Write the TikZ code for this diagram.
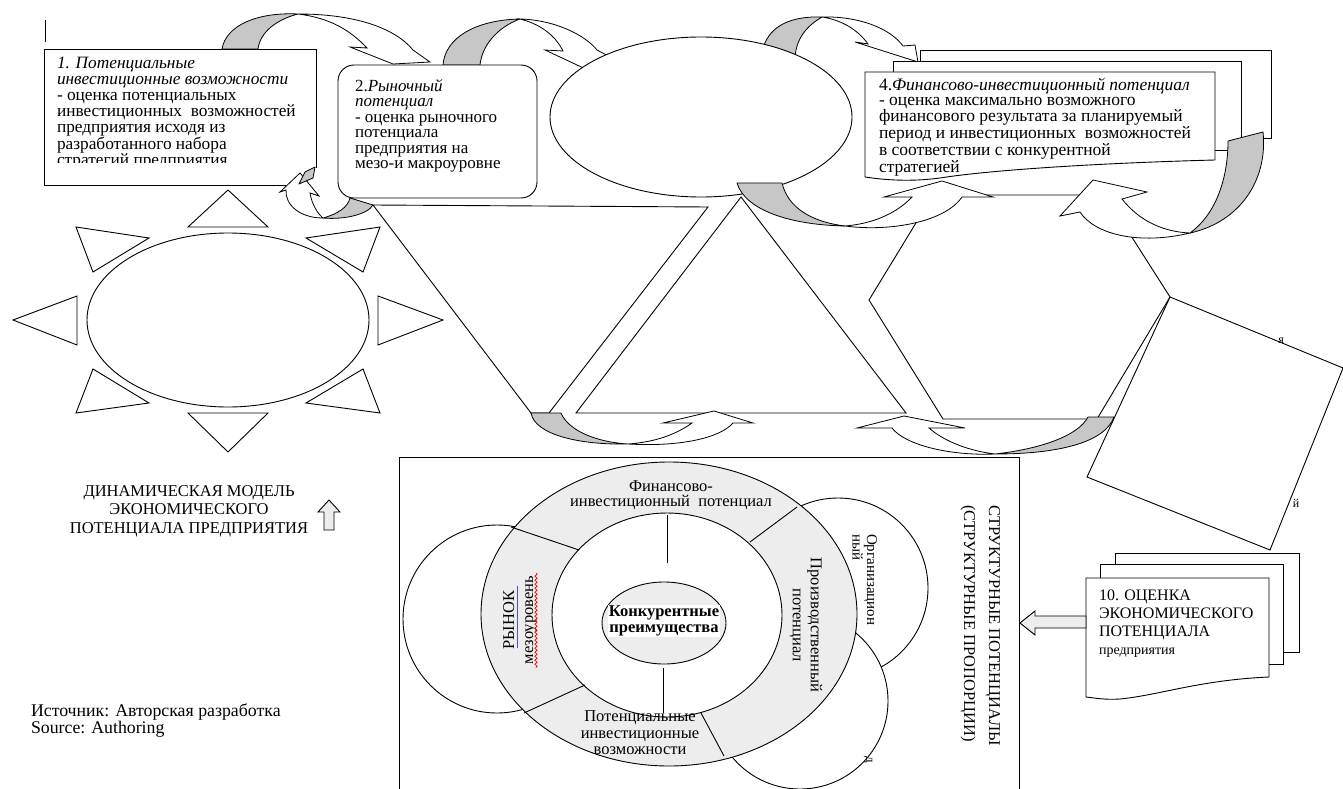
\documentclass[tikz,border=0pt]{standalone}
\usepackage{fontspec}
\setmainfont{Liberation Serif}
\usetikzlibrary{decorations.pathmorphing}
\begin{document}
\begin{tikzpicture}[x=1pt,y=-1pt,
  ln/.style={draw=black,line width=0.9pt},
  shp/.style={draw=black,fill=white,line width=0.9pt},
  gband/.style={draw=black,fill=black!22,line width=0.8pt,line join=round},
  wband/.style={draw=black,fill=white,line width=0.8pt},
  blk/.style={draw=black,fill=black!7,line width=0.9pt},
  ring/.style={draw=black,fill=black!7,line width=0.9pt},
  txt/.style={inner sep=0pt,outer sep=0pt,text=black},
]
\useasboundingbox (0,0) rectangle (1343,789);
\fill[white] (0,0) rectangle (1343,789);

% tick
\draw[ln] (45,20) -- (45,42);

% sun
\draw[shp] (228,320) ellipse [x radius=141pt, y radius=87pt];
\draw[shp] (188,227) -- (268,227) -- (228,190) -- cycle;
\draw[shp] (188,413) -- (268,413) -- (228,452) -- cycle;
\draw[shp] (77,296) -- (77,345) -- (13,320) -- cycle;
\draw[shp] (378,296) -- (378,345) -- (443,320) -- cycle;
\draw[shp] (76,227) -- (149,238) -- (93,272) -- cycle;
\draw[shp] (380,227) -- (306,238) -- (363,272) -- cycle;
\draw[shp] (93,369) -- (149,403) -- (76,413) -- cycle;
\draw[shp] (363,369) -- (306,403) -- (380,413) -- cycle;

% big middle shapes
\draw[shp] (373,205) -- (708,207) -- (549,413) -- (531,413) -- cycle;
\draw[shp] (741,197) -- (906,413) -- (576,413) -- cycle;
\draw[shp] (933,195) -- (1105,195) -- (1170,297) -- (1097,419) -- (943,419) -- (869,300) -- cycle;
\draw[shp] (1170,297) -- (1343,368) -- (1270,550) -- (1087,477) -- cycle;
\node[txt,font=\fontsize{12}{12}\selectfont] (fr1) at (1281,341) {я};
\node[txt,font=\fontsize{12}{12}\selectfont] (fr2) at (1296,503) {й};

% arrow A
\draw[wband] (298,14) .. controls (355,14) and (395,28) .. (413,50) -- (430,62) -- (393,64) -- (350,47) -- (367,48) .. controls (350,30) and (330,18) .. (298,14) -- cycle;
\draw[gband] (222,49) .. controls (226,25) and (258,12) .. (298,14) .. controls (275,20) and (260,33) .. (258,49) -- cycle;
% arrow B
\draw[wband] (520,19) .. controls (555,20) and (585,35) .. (597,50) -- (612,58) -- (592,72) -- (545,50) -- (563,51) .. controls (555,35) and (540,24) .. (520,19) -- cycle;
\draw[gband] (443,65) .. controls (445,38) and (475,20) .. (520,19) .. controls (498,27) and (482,45) .. (480,65) -- cycle;
% arrow C
\draw[wband] (822,17) .. controls (858,16) and (890,28) .. (903,46) -- (915,45) -- (918,62) -- (855,42) -- (868,44) .. controls (858,30) and (842,20) .. (822,17) -- cycle;
\draw[gband] (763,48) .. controls (770,25) and (792,16) .. (822,17) .. controls (805,27) and (796,40) .. (795,58) -- cycle;

% ellipse 3
\draw[shp] (701,117) ellipse [x radius=151pt, y radius=80pt];

% box 2
\draw[shp,rounded corners=16pt] (338,65) rectangle (537,198);
\node[txt,anchor=north west,align=left,font=\fontsize{17}{15.5}\selectfont] (t2) at (355,79)
{2.\textit{Рыночный}\\ \textit{потенциал}\\ - оценка рыночного\\ потенциала\\ предприятия на\\ мезо-и макроуровне};

% box 1
\fill[white] (44,49) rectangle (316,185);
\draw[ln] (298,185) -- (44,185) -- (44,49) -- (316,49) -- (316,168);
\begin{scope}
\clip (44,49) rectangle (316,162);
\node[txt,anchor=north west,align=left,font=\fontsize{17.3}{16}\selectfont] (t1) at (57,57)
{\textit{1. Потенциальные}\\ \textit{инвестиционные возможности}\\ - оценка потенциальных\\ инвестиционных\ \ возможностей\\ предприятия исходя из\\ разработанного набора\\ стратегий предприятия};
\end{scope}

% arrow D
\draw[wband] (323,218) .. controls (300,218) and (285,205) .. (286,190) -- (280,192) -- (300,173) -- (319,196) -- (310,193) .. controls (312,205) and (318,214) .. (323,218) -- cycle;
\draw[gband] (350,198) -- (373,205) .. controls (368,214) and (345,220) .. (323,218) .. controls (338,214) and (348,207) .. (350,198) -- cycle;
\draw[gband] (299,184) -- (305,172) -- (315,167) -- (313,178) -- cycle;

% box 4 stack
\draw[shp] (920,50) rectangle (1271,138);
\draw[shp] (893,61) rectangle (1241,150);
\draw[shp] (865,72) -- (1215,72) -- (1215,160) .. controls (1100,163) and (990,170) .. (940,178) .. controls (910,182) and (885,180) .. (865,177) -- cycle;
\node[txt,anchor=north west,align=left,font=\fontsize{17.5}{15}\selectfont] (t4) at (879,78)
{4.\textit{Финансово-инвестиционный потенциал}\\ - оценка максимально возможного\\ финансового результата за планируемый\\ период и инвестиционных\ \ возможностей\\ в соответствии с конкурентной\\ стратегией};

% arrow E
\draw[wband] (845,226) .. controls (890,232) and (945,222) .. (962,197) -- (993,197) -- (942,181) -- (884,197) -- (912,197) .. controls (895,215) and (870,224) .. (845,226) -- cycle;
\draw[gband] (737,183) -- (782,183) .. controls (788,208) and (812,222) .. (845,226) .. controls (790,225) and (745,210) .. (737,183) -- cycle;
% arrow H
\draw[wband] (1190,233) .. controls (1140,245) and (1095,235) .. (1080,212) -- (1060,216) -- (1093,180) -- (1147,192) -- (1122,199) .. controls (1140,222) and (1165,232) .. (1190,233) -- cycle;
\draw[gband] (1228,141) -- (1263,132) .. controls (1268,180) and (1240,222) .. (1190,233) .. controls (1215,215) and (1228,180) .. (1228,141) -- cycle;
% arrow F
\draw[wband] (628,444) .. controls (680,447) and (720,438) .. (733,423) -- (753,423) -- (714,411) -- (663,423) -- (692,423) .. controls (675,435) and (655,442) .. (628,444) -- cycle;
\draw[gband] (531,413) -- (561,413) .. controls (568,430) and (595,442) .. (628,444) .. controls (580,445) and (535,435) .. (531,413) -- cycle;
% arrow G
\draw[wband] (995,454) .. controls (950,456) and (905,445) .. (892,428) -- (857,428) -- (904,416) -- (965,428) -- (929,428) .. controls (945,442) and (970,451) .. (995,454) -- cycle;
\draw[gband] (1088,417) -- (1114,417) .. controls (1105,442) and (1060,454) .. (995,454) .. controls (1040,449) and (1078,436) .. (1088,417) -- cycle;

% left texts
\node[txt,align=center,font=\fontsize{16.5}{18.5}\selectfont] (dyn) at (189,511)
{ДИНАМИЧЕСКАЯ МОДЕЛЬ\\ ЭКОНОМИЧЕСКОГО\\ ПОТЕНЦИАЛА ПРЕДПРИЯТИЯ};
\draw[blk] (324,530) -- (324,512) -- (318,512) -- (329,500) -- (340,512) -- (334,512) -- (334,530) -- cycle;
\node[txt,anchor=north west,align=left,font=\fontsize{17.8}{16}\selectfont] (src) at (31,704)
{Источник: Авторская разработка\\ Source: Authoring};

% bottom frame
\draw[ln] (399,800) -- (399,457) -- (1019,457) -- (1019,800);
\draw[shp] (838,588) circle [radius=90pt];
\draw[shp] (800,701) circle [radius=88pt];
\draw[shp] (497,619) circle [radius=94pt];
\node[txt,font=\fontsize{13}{13}\selectfont,rotate=-90] (fr3) at (868,760) {д};
\draw[ring] (669,614) ellipse [x radius=188pt, y radius=152pt];
\draw[shp] (667,615) ellipse [x radius=115pt, y radius=102pt];
\draw[ring] (664,623) ellipse [x radius=62pt, y radius=41pt];
\draw[ln] (667,515) -- (667,563);
\draw[ln] (663,668) -- (663,713);
\draw[ln] (511,527) -- (579,550);
\draw[ln] (797,507) -- (750,542);
\draw[ln] (524,713) -- (585,685);
\draw[ln] (701,713) -- (724,756);

\node[txt,align=center,font=\fontsize{16.5}{15}\selectfont] (fin) at (671,495)
{Финансово-\\ инвестиционный\ \ потенциал};
\node[txt,align=center,font=\bfseries\fontsize{16.5}{16}\selectfont,fill=white,inner sep=1pt] (kon) at (664,621)
{Конкурентные\\ преимущества};
\node[txt,align=center,font=\fontsize{16.5}{16.5}\selectfont] (pot) at (640,733)
{Потенциальные\\ инвестиционные\\ возможности};
\node[txt,align=center,font=\fontsize{16.5}{18}\selectfont,rotate=-90] (prod) at (806,625)
{Производственный\\ потенциал};
\node[txt,align=left,font=\fontsize{15}{12}\selectfont,rotate=-90,anchor=north west] (org) at (877,534)
{Организацион\\ный};
\node[txt,align=center,font=\fontsize{16.5}{19}\selectfont,rotate=90] (ryn) at (520,620)
{РЫНОК\\ мезоуровень};
\draw[blue!70,line width=0.9pt] (517,586) -- (517,648);
\draw[red,line width=0.7pt,decorate,decoration={snake,amplitude=1.2pt,segment length=4pt}] (536,573) -- (536,668);
\node[txt,align=left,font=\fontsize{16.5}{25}\selectfont,rotate=-90,anchor=north west] (str) at (1000,505)
{СТРУКТУРНЫЕ ПОТЕНЦИАЛЫ\\ (СТРУКТУРНЫЕ ПРОПОРЦИИ)};

% box 10 stack
\draw[shp] (1115,553) rectangle (1299,652);
\draw[shp] (1100,564) rectangle (1283,664);
\draw[shp] (1086,578) -- (1269,578) -- (1269,677) .. controls (1200,680) and (1160,695) .. (1120,699) .. controls (1105,700) and (1095,698) .. (1086,697) -- cycle;
\node[txt,anchor=north west,align=left,font=\fontsize{16}{18}\selectfont] (t10) at (1099,590)
{10. ОЦЕНКА\\ ЭКОНОМИЧЕСКОГО\\ ПОТЕНЦИАЛА\\ {\fontsize{14}{18}\selectfont предприятия}};
\draw[blk] (1086,628) -- (1035,628) -- (1035,635) -- (1020,623) -- (1035,611) -- (1035,616) -- (1086,616) -- cycle;
\end{tikzpicture}
\end{document}
